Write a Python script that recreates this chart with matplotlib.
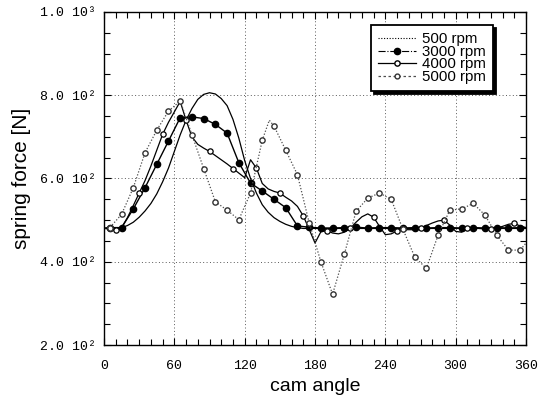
import matplotlib
matplotlib.use('Agg')
import matplotlib.pyplot as plt
from matplotlib.lines import Line2D

# cam angle grid (deg)
angle_5 = list(range(0, 365, 5))

# 500 rpm (quasi static lift curve)
a500 = [0, 10, 15, 20, 25, 30, 35, 40, 45, 50, 55, 60, 65, 70, 75, 80, 85, 90,
        95, 100, 105, 110, 115, 120, 125, 130, 135, 140, 145, 150, 155, 160, 165, 170, 360]
f500 = [480, 480, 482, 487, 495, 507, 522, 540, 563, 592, 625, 665, 705, 740, 768, 790, 802, 806,
        803, 792, 775, 742, 697, 643, 600, 565, 537, 519, 506, 497, 490, 485, 482, 480, 480]

# 3000 rpm
a3000 = [0, 5, 15, 25, 35, 45, 55, 65, 75, 85, 95, 105, 115, 125, 135, 145, 155, 165, 175,
         185, 195, 205, 215, 225, 235, 245, 255, 265, 275, 285, 295, 305, 315, 325, 335, 345, 355, 360]
f3000 = [481, 482, 482, 527, 578, 634, 690, 746, 748, 744, 730, 709, 638, 589, 570, 550, 530, 486, 483,
         481, 481, 482, 483, 481, 482, 482, 481, 482, 481, 482, 482, 481, 482, 481, 482, 481, 482, 482]

# 4000 rpm (every 5 deg)
f4000 = [480, 479, 476, 482, 506, 535, 565, 595, 630, 668, 706, 735, 760, 785, 740, 700, 682, 673,
         665, 655, 645, 635, 624, 613, 602, 645, 625, 588, 575, 569, 565, 555, 546, 533, 510, 478,
         445, 472, 475, 469, 467, 471, 480, 495, 508, 515, 507, 485, 465, 467, 474, 477, 477, 477,
         480, 487, 493, 498, 500, 488, 473, 471, 480, 482, 480, 479, 479, 481, 485, 490, 492, 486, 482]

# 5000 rpm
a5000 = [0, 5, 15, 25, 35, 45, 55, 65, 75, 85, 95, 105, 115, 125, 135, 141, 145, 155, 165, 175,
         185, 195, 205, 215, 225, 235, 245, 255, 265, 275, 285, 295, 305, 315, 325, 335, 345, 355, 360]
f5000 = [480, 482, 514, 578, 662, 716, 762, 786, 705, 624, 544, 524, 501, 565, 692, 740, 726, 668, 609, 494,
         400, 322, 418, 521, 553, 565, 550, 478, 412, 384, 464, 524, 527, 540, 512, 464, 428, 428, 445]

yticks = [200, 400, 600, 800, 1000]
ytick_labels = ['2.0 10\u00b2', '4.0 10\u00b2', '6.0 10\u00b2', '8.0 10\u00b2', '1.0 10\u00b3']
xticks = [0, 60, 120, 180, 240, 300, 360]

fig = plt.figure(figsize=(5.46, 3.99), dpi=100)
ax = fig.add_axes([0.1905, 0.1353, 0.7729, 0.8347])

ax.plot(a500, f500, color='black', lw=0.9)
ax.plot(a3000, f3000, color='black', lw=1.0, marker='o', ms=4.5,
        markevery=list(range(1, len(a3000) - 1)))
ax.plot(angle_5, f4000, color='black', lw=0.9, marker='o', ms=3.8, mfc='white', mew=0.9,
        markevery=slice(2, None, 4))
m5000 = [i for i, a in enumerate(a5000) if a % 10 == 5]
ax.plot(a5000, f5000, color='0.3', lw=0.9, ls=(0, (1, 1.5)), marker='o', ms=3.8, mfc='white',
        mec='0.2', mew=1.0, markevery=m5000)

ax.set_xlim(0, 360)
ax.set_ylim(200, 1000)
ax.set_xticks(xticks)
ax.set_xticks(range(0, 361, 10), minor=True)
ax.set_yticks(yticks)
ax.set_yticks(range(200, 1001, 50), minor=True)
ax.set_yticklabels(ytick_labels, family='Liberation Mono', fontsize=9.5)
ax.set_xticklabels([str(x) for x in xticks], family='Liberation Mono', fontsize=9.5)
ax.tick_params(which='both', direction='in', top=True, right=True, width=0.8)
ax.tick_params(which='major', length=5)
ax.tick_params(axis='y', which='major', pad=6)
ax.tick_params(axis='x', which='major', pad=11)
ax.tick_params(which='minor', length=4)
ax.grid(True, which='major', color='0.35', lw=0.7, ls=(0, (1, 2.5)))
for s in ax.spines.values():
    s.set_linewidth(1.0)

ax.set_xlabel('cam angle', family='Liberation Sans', fontsize=14, labelpad=4)
ax.set_ylabel('spring force [N]', family='Liberation Sans', fontsize=15, labelpad=6)

handles = [
    Line2D([], [], color='black', lw=0.8, ls=(0, (1, 1.5))),
    Line2D([], [], color='black', lw=0.8, ls='-.', marker='o', ms=4.5),
    Line2D([], [], color='black', lw=0.9, marker='o', ms=3.8, mfc='white'),
    Line2D([], [], color='0.3', lw=0.9, ls=(0, (2, 2)), marker='o', ms=3.5, mfc='white', mec='0.2'),
]
labels = ['500 rpm', '3000 rpm', '4000 rpm', '5000 rpm']
leg = ax.legend(handles, labels, loc='upper right', bbox_to_anchor=(0.922, 0.961),
                prop={'family': 'Liberation Sans', 'size': 10.8}, handlelength=2.5,
                labelspacing=-0.1, handletextpad=0.4, borderpad=0.5, borderaxespad=0,
                fancybox=False, framealpha=1, edgecolor='black',
                shadow={'color': 'black', 'alpha': 1})
leg.get_frame().set_linewidth(1.3)

fig.savefig('out.png', dpi=100)
